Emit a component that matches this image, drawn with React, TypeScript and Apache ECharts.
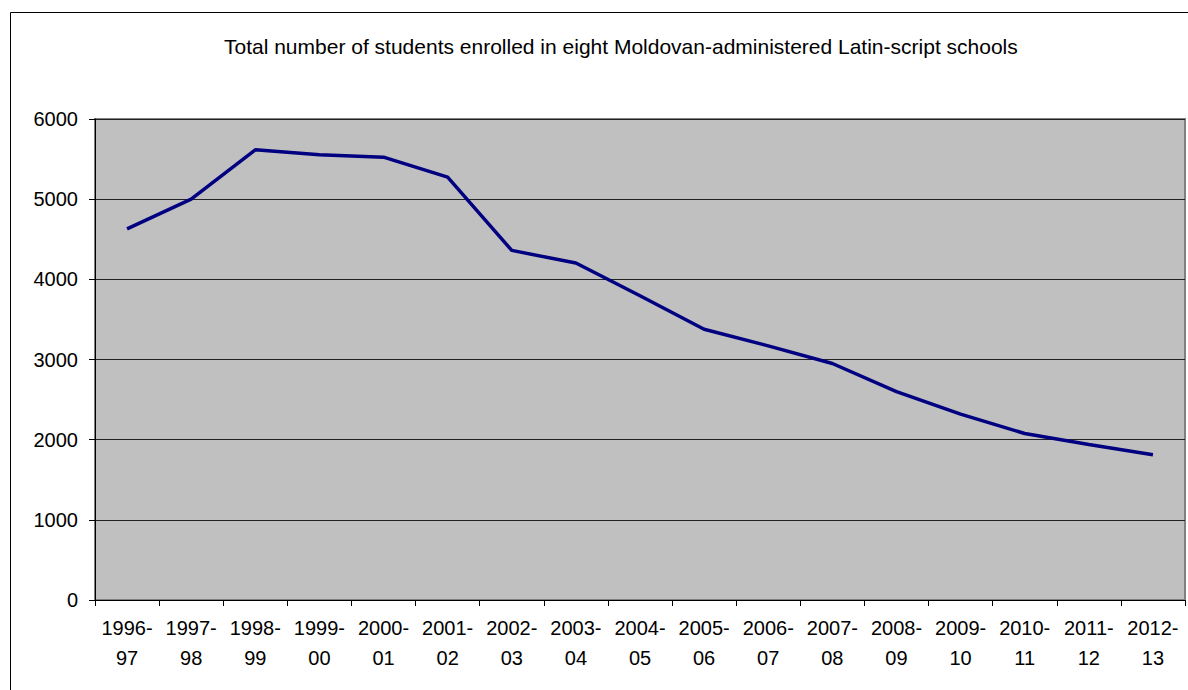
import React, { useEffect, useRef } from "react";
import * as echarts from "echarts";

const titleText =
  "Total number of students enrolled in eight Moldovan-administered Latin-script schools";
const categories = [
  "1996-\n97", "1997-\n98", "1998-\n99", "1999-\n00", "2000-\n01", "2001-\n02",
  "2002-\n03", "2003-\n04", "2004-\n05", "2005-\n06", "2006-\n07", "2007-\n08",
  "2008-\n09", "2009-\n10", "2010-\n11", "2011-\n12", "2012-\n13",
];
const students = [
  4630, 5000, 5616, 5554, 5524, 5275, 4361, 4203, 3795, 3377, 3170, 2950,
  2600, 2318, 2077, 1940, 1811,
];
const yMin = 0;
const yMax = 6000;
const yStep = 1000;

export default function App() {
  const ref = useRef<HTMLDivElement>(null);
  useEffect(() => {
    if (!ref.current) return;
    const chart = echarts.init(ref.current, null, { renderer: "svg" });
    const font = "'Liberation Sans', Arial, sans-serif";
    chart.setOption({
      animation: false,
      backgroundColor: "#ffffff",
      title: {
        text: titleText,
        left: 219,
        top: 31,
        textStyle: { fontFamily: font, fontSize: 21, fontWeight: "normal", color: "#000" },
      },
      graphic: [
        {
          type: "rect",
          shape: { x: 10.5, y: 12.5, width: 1400, height: 900 },
          style: { fill: "none", stroke: "#000", lineWidth: 1 },
          silent: true,
        },
      ],
      grid: {
        left: 95,
        right: 3,
        top: 119,
        bottom: 90,
        show: true,
        backgroundColor: "#C0C0C0",
        borderColor: "#808080",
        borderWidth: 2,
        containLabel: false,
      },
      xAxis: {
        type: "category",
        data: categories,
        boundaryGap: true,
        axisLine: { show: true, lineStyle: { color: "#000", width: 1 } },
        axisTick: { show: true, interval: 0, length: 6, lineStyle: { color: "#000" } },
        axisLabel: {
          interval: 0,
          margin: 13,
          fontFamily: font,
          fontSize: 20,
          lineHeight: 30,
          color: "#000",
        },
        splitLine: { show: false },
      },
      yAxis: {
        type: "value",
        min: yMin,
        max: yMax,
        interval: yStep,
        axisLine: { show: true, lineStyle: { color: "#000", width: 1 } },
        axisTick: { show: true, length: 6, lineStyle: { color: "#000" } },
        axisLabel: {
          margin: 17,
          fontFamily: font,
          fontSize: 20,
          color: "#000",
          formatter: (v: number) => String(v),
        },
        splitLine: { show: true, lineStyle: { color: "#222", width: 1 } },
      },
      series: [
        {
          type: "line",
          data: students,
          symbol: "none",
          lineStyle: { color: "#000080", width: 3.5 },
          itemStyle: { color: "#000080" },
        },
      ],
    });
    return () => chart.dispose();
  }, []);
  return (
    <div
      ref={ref}
      style={{ position: "absolute", left: 0, top: 0, width: 1188, height: 690 }}
    />
  );
}
